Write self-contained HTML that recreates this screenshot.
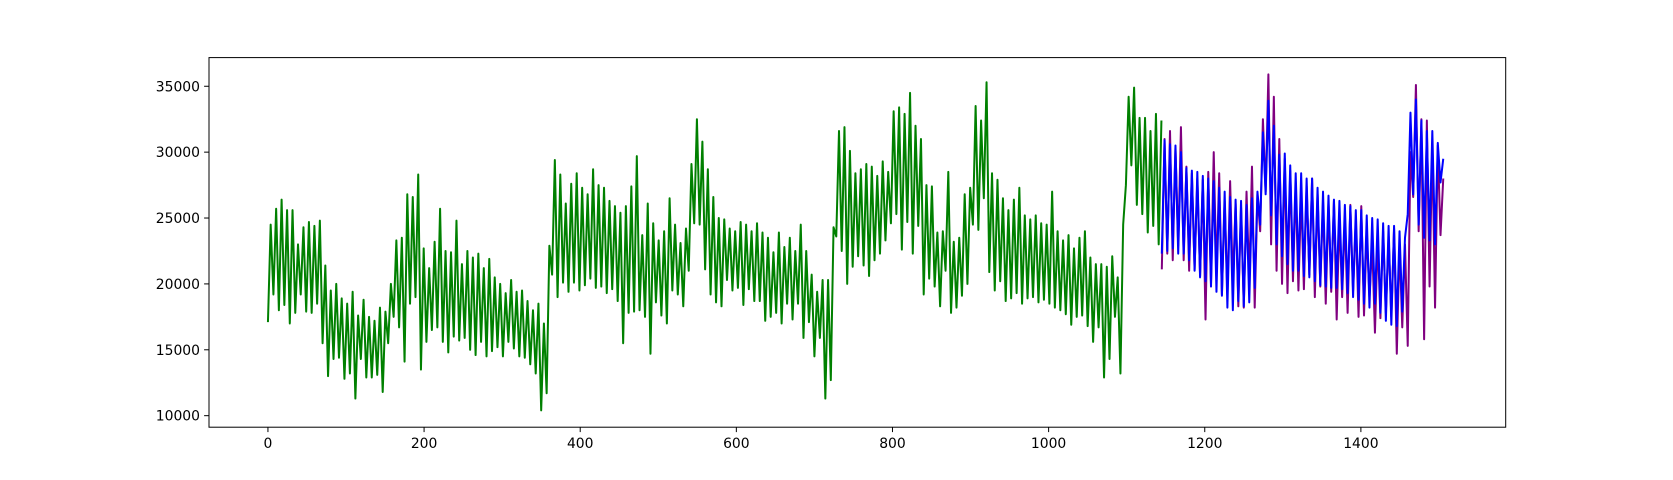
<!DOCTYPE html>
<html><head><meta charset="utf-8"><style>
html,body{margin:0;padding:0;background:#fff;}
svg{display:block;font-family:"DejaVu Sans","Liberation Sans",sans-serif;}
</style></head><body>
<svg id="chart" width="1673" height="480" viewBox="0 0 1673 480" xmlns="http://www.w3.org/2000/svg">
<rect x="0" y="0" width="1673" height="480" fill="#fff"/>
<g id="plot"></g>
<rect x="209" y="57.6" width="1296.7" height="369.6" fill="none" stroke="#000" stroke-width="1"/>
<g id="xaxis"></g>
<g id="yaxis"></g>
</svg>
<script>
const xTicks=[0,200,400,600,800,1000,1200,1400];
const yTicks=[10000,15000,20000,25000,30000,35000];
const greenStart=0, predStart=1145;
const greenLow=[17.1,19.2,18.0,18.4,17.0,17.8,19.2,17.9,17.8,18.5,
15.5,13,14.3,14.4,12.8,13.2,11.3,14.3,12.9,12.9,13.1,11.8,15.5,
17.5,16.7,14.1,
18.5,19.0,13.5,15.6,16.5,16.7,15.6,14.8,16.0,15.7,
15.9,15.0,14.6,15.6,14.5,14.9,15.2,14.5,15.6,15.1,14.5,14.4,13.9,
13.2,10.4,11.7,
20.7,19.0,20.1,19.4,20.1,19.5,19.9,20.4,19.7,19.8,19.3,
19.6,18.7,15.5,17.8,17.9,18.0,17.5,14.7,18.6,17.6,17.0,19.5,19.2,18.3,21.0,
24.6,24.5,21.1,
19.2,18.6,18.3,20.3,19.5,19.7,18.4,19.6,
18.7,18.7,17.2,17.5,17.8,17.0,18.5,17.3,18.5,15.9,17.1,14.5,
15.9,11.3,12.7,
23.6,22.5,20.0,21.3,22.1,
21.4,20.6,21.8,22.3,23.3,
24.6,25.3,22.6,24.7,22.3,
24.4,19.2,20.4,19.8,18.3,21.0,
17.8,18.2,19.1,20.0,
24.5,24.1,26.5,20.9,
19.5,20.2,18.7,18.9,19.3,18.5,18.9,19.0,18.6,18.8,18.5,
18.2,18.0,17.7,16.9,17.5,17.6,16.8,15.6,16.7,12.9,14.3,
17.5,13.2,
27.5,29.0,26.0,25.3,23.9,24.4,23.0];
const greenHigh=[24.5,25.7,26.4,25.6,25.6,23,24.3,24.7,24.4,24.8,
21.4,19.5,20,18.9,18.5,19.4,17.6,18.8,17.5,17.2,18.2,17.9,20,
23.3,23.5,26.8,
26.6,28.3,22.7,21.2,23.2,25.7,22.5,22.4,24.8,21.5,
22.5,22.0,22.3,21.2,21.9,20.5,20.0,19.3,20.3,19.4,19.5,18.7,18.0,
18.5,17.0,22.9,
29.4,28.3,26.1,27.6,28.4,27.3,26.8,28.7,27.5,27.3,26.3,
25.9,25.4,25.9,27.4,29.7,23.7,26.1,24.6,23.3,24.0,26.5,24.5,23.1,24.2,29.1,
32.5,30.8,28.7,
26.6,25.0,24.9,24.2,24.0,24.7,24.5,24.0,
24.6,23.9,23.5,22.4,23.9,22.8,23.5,22.5,24.5,22.5,20.7,19.4,
20.3,20.3,24.3,
31.6,31.9,30.1,28.4,28.7,
29.1,28.9,28.2,29.3,28.5,
33.1,33.4,32.9,34.5,32.0,
31.0,27.5,27.4,23.9,24.0,28.5,
23.2,23.5,26.8,27.3,
33.5,32.4,35.3,28.4,
27.9,26.5,25.6,26.4,27.3,25.2,24.9,25.2,24.6,24.5,27.0,
24.0,23.3,23.7,22.7,23.5,24.0,22.0,21.5,21.5,21.3,22.1,
20.5,24.5,
34.2,34.9,32.6,32.6,31.6,32.9,32.4];
const actualHigh=[31.0,31.6,30.3,31.9,28.9,28.4,28.0,27.9,28.5,30.0,28.4,26.3,27.8,26.1,25.8,27.0,28.9,26.8,
32.5,35.9,34.2,31.0,
29.5,28.6,27.5,26.9,27.4,28.0,26.8,26.2,26.1,26.3,25.0,25.0,26.0,24.8,25.9,24.0,23.0,23.5,24.0,23.6,24.2,23.0,23.0,
30.0,35.1,32.5,32.4,30.7,30.5,28.0];
const actualLow=[21.1,22.3,21.8,22.9,21.8,21.0,21.1,20.6,17.3,20.0,20.6,19.2,19.2,20.0,18.3,18.2,20.3,18.2,
24.0,27.0,23.0,21.0,
20.0,19.3,20.2,19.5,19.6,20.7,19.0,19.8,18.5,19.4,17.3,19.0,17.8,19.5,17.5,17.6,19.0,16.3,17.4,17.8,17.5,14.7,16.7,
15.3,26.6,24.0,15.8,19.8,18.2,23.7];
const predHigh=[30.9,30.6,30.5,30.0,28.8,28.6,28.5,28.2,28.0,27.8,27.3,27.0,26.6,26.4,26.3,26.0,26.5,27.0,
31.5,33.9,32.0,29.8,
29.9,29.0,28.4,28.4,28.0,28.0,27.3,27.0,26.7,26.4,26.3,26.0,25.9,25.6,25.6,25.2,25.0,24.9,24.6,24.4,24.4,24.0,23.5,
33.0,34.0,32.4,31.6,31.6,30.7,29.5];
const predLow=[22.3,22.5,22.7,22.3,22.3,21.8,21.0,20.5,20.2,19.8,19.4,19.1,18.2,18.0,18.7,18.3,18.6,19.7,
24.5,26.8,25.2,23.0,
22.1,21.5,21.0,21.0,20.6,20.5,20.2,19.9,19.8,19.7,19.7,19.6,19.3,19.0,18.8,18.5,18.2,18.5,17.8,17.2,16.9,16.8,17.9,
25.3,26.8,24.5,23.5,23.3,23.0,27.7];

const L=209,R=1505.7,T=57.6,B=427.2;
const XMIN=-75.5,XMAX=1585.5,YMIN=9125,YMAX=37175;
function xs(v){return L+(v-XMIN)/(XMAX-XMIN)*(R-L);}
function ys(v){return B-(v-YMIN)/(YMAX-YMIN)*(B-T);}
const NS="http://www.w3.org/2000/svg";
function series(start,lows,highs){
  const pts=[];
  for(let i=0;i<lows.length;i++){
    pts.push([start+7*i,lows[i]*1000]);
    pts.push([start+7*i+3.5,highs[i]*1000]);
  }
  return pts.map(p=>xs(p[0]).toFixed(2)+','+ys(p[1]).toFixed(2)).join(' ');
}
const plot=document.getElementById('plot');
function addLine(pts,color,name){
  const pl=document.createElementNS(NS,'polyline');
  pl.setAttribute('points',pts);
  pl.setAttribute('fill','none');
  pl.setAttribute('stroke',color);
  pl.setAttribute('stroke-width','2');
  pl.setAttribute('stroke-linejoin','round');
  
  
  plot.appendChild(pl);
}
addLine(series(greenStart,greenLow,greenHigh),'#008000','training-series-line');
addLine(series(predStart,actualLow,actualHigh),'#800080','actual-series-line');
addLine(series(predStart,predLow,predHigh),'#0000ff','prediction-series-line');

const xa=document.getElementById('xaxis');
xTicks.forEach(t=>{
  const x=xs(t);
  const ln=document.createElementNS(NS,'line');
  ln.setAttribute('x1',x);ln.setAttribute('x2',x);ln.setAttribute('y1',B);ln.setAttribute('y2',B+4.9);
  ln.setAttribute('stroke','#000');ln.setAttribute('stroke-width','1');
  
  
  xa.appendChild(ln);
  const tx=document.createElementNS(NS,'text');
  tx.setAttribute('x',x);tx.setAttribute('y',B+21);tx.setAttribute('text-anchor','middle');
  tx.setAttribute('font-size','13.9');
  tx.textContent=t;
  
  
  xa.appendChild(tx);
});
const ya=document.getElementById('yaxis');
yTicks.forEach(t=>{
  const y=ys(t);
  const ln=document.createElementNS(NS,'line');
  ln.setAttribute('x1',L-4.9);ln.setAttribute('x2',L);ln.setAttribute('y1',y);ln.setAttribute('y2',y);
  ln.setAttribute('stroke','#000');ln.setAttribute('stroke-width','1');
  
  
  ya.appendChild(ln);
  const tx=document.createElementNS(NS,'text');
  tx.setAttribute('x',L-9);tx.setAttribute('y',y+5);tx.setAttribute('text-anchor','end');
  tx.setAttribute('font-size','13.9');
  tx.textContent=t;
  
  
  ya.appendChild(tx);
});
</script>
</body></html>
